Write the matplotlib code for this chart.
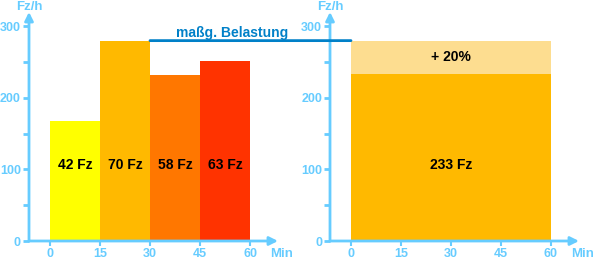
import matplotlib
matplotlib.use("Agg")
import matplotlib.pyplot as plt
from matplotlib.patches import ConnectionPatch

# data
intervals = [0, 15, 30, 45]          # interval starts (min)
width_min = 15
counts = [42, 70, 58, 63]             # vehicles per 15 min
rates = [c * 4 for c in counts]       # Fz/h
bar_colors = ["#FFFF00", "#FFB900", "#FF7700", "#FF3300"]
total = 233
peak = 280
surcharge_label = "+ 20%"
line_label = "maßg. Belastung"
y_ticks = [0, 100, 200, 300]
y_minor = [50, 150, 250]
x_ticks = [0, 15, 30, 45, 60]

axis_col = "#66CCFF"
line_col = "#0080C8"
FONT = "Liberation Sans"
W, H = 594, 259
fig = plt.figure(figsize=(W / 100, H / 100), dpi=100)

PX_X = 200 / 60      # px per minute
PX_Y = 215 / 300     # px per Fz/h

def make_axes(x0px):
    left = x0px / W
    width = 249 / W
    bottom = (H - 241) / H
    height = 229 / H
    ax = fig.add_axes([left, bottom, width, height])
    ax.set_xlim(-6.3, 68.4)
    ax.set_ylim(0, 320)
    for s in ax.spines.values():
        s.set_visible(False)
    ax.set_xticks([])
    ax.set_yticks([])
    ax.patch.set_alpha(0)
    ax.annotate("", xy=(68.4, 0), xytext=(-6.3, 0), xycoords="data",
                arrowprops=dict(arrowstyle="-|>,head_length=0.5,head_width=0.25",
                                color=axis_col, lw=2, shrinkA=0, shrinkB=0),
                annotation_clip=False)
    ax.annotate("", xy=(-6.3, 320), xytext=(-6.3, 0), xycoords="data",
                arrowprops=dict(arrowstyle="-|>,head_length=0.5,head_width=0.25",
                                color=axis_col, lw=2, shrinkA=0, shrinkB=0),
                annotation_clip=False)
    for t in y_ticks + y_minor:
        ax.plot([-6.3 - 6 / PX_X, -6.3], [t, t], color=axis_col, lw=2,
                solid_capstyle="butt", clip_on=False)
    for t in x_ticks:
        ax.plot([t, t], [0, -5 / PX_Y], color=axis_col, lw=1.5,
                solid_capstyle="butt", clip_on=False)
    for t in y_ticks:
        ax.text(-6.3 - 8 / PX_X, t, str(t), color=axis_col, fontsize=9,
                fontweight="bold", ha="right", va="center_baseline", family=FONT)
    for t in x_ticks:
        ax.text(t, -16 / PX_Y, str(t), color=axis_col, fontsize=9,
                fontweight="bold", ha="center", va="baseline", family=FONT)
    ax.text(-6.3, 231 / PX_Y, "Fz/h", color=axis_col, fontsize=9.5,
            fontweight="bold", ha="center", va="baseline", family=FONT)
    ax.text(66, -16 / PX_Y, "Min", color=axis_col, fontsize=9.5,
            fontweight="bold", ha="left", va="baseline", family=FONT)
    return ax

ax1 = make_axes(29)
ax2 = make_axes(330)

for x0, r, c, col in zip(intervals, rates, counts, bar_colors):
    ax1.bar(x0, r, width=width_min, align="edge", color=col, linewidth=0, zorder=1)
    ax1.text(x0 + width_min / 2, 106, f"{c} Fz", ha="center", va="center",
             fontsize=10, fontweight="bold", family=FONT, zorder=3)

ax2.bar(0, total, width=60, align="edge", color="#FFB900", linewidth=0)
ax2.bar(0, peak - total, bottom=total, width=60, align="edge", color="#FDDD90",
        linewidth=0)
ax2.text(30, 257, surcharge_label, ha="center", va="center", fontsize=10,
         fontweight="bold", family=FONT)
ax2.text(30, 106, f"{total} Fz", ha="center", va="center", fontsize=10,
         fontweight="bold", family=FONT)

con = ConnectionPatch(xyA=(30, peak), coordsA=ax1.transData,
                      xyB=(0, peak), coordsB=ax2.transData,
                      color=line_col, lw=2, zorder=5)
fig.add_artist(con)
ax1.text(54.5, 284.5, line_label, color=line_col, fontsize=10, fontweight="bold",
         ha="center", va="baseline", family=FONT, clip_on=False)

fig.savefig("out.png", dpi=100)
